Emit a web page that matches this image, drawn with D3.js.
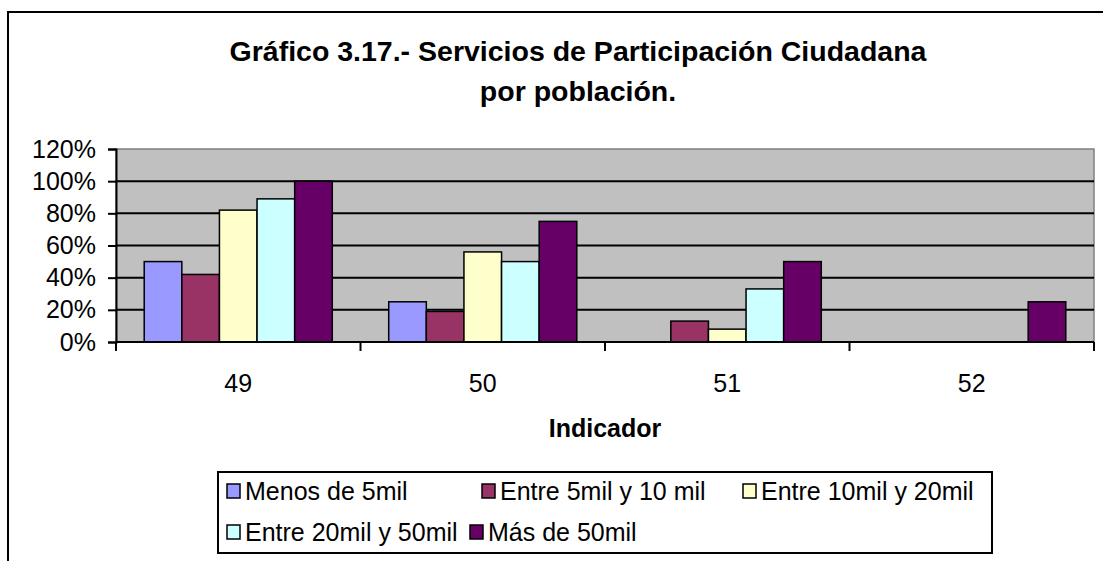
<!DOCTYPE html>
<html>
<head>
<meta charset="utf-8">
<script src="https://cdn.jsdelivr.net/npm/d3@7"></script>
<style>
  body { margin: 0; background: #fff; }
  svg { display: block; font-family: "Liberation Sans", Arial, sans-serif; }
</style>
</head>
<body>
<svg id="chart" width="1103" height="561"></svg>
<script>
// chart data
const indicators = ["49", "50", "51", "52"];
const seriesNames = ["Menos de 5mil", "Entre 5mil y 10 mil", "Entre 10mil y 20mil", "Entre 20mil y 50mil", "Más de 50mil"];
const seriesColors = ["#9999FF", "#993366", "#FFFFCC", "#CCFFFF", "#660066"];
const menos5 = [50, 25, 0, 0];
const de5a10 = [42, 19, 13, 0];
const de10a20 = [82, 56, 8, 0];
const de20a50 = [89, 50, 33, 0];
const mas50 = [100, 75, 50, 25];
const yTicks = [0, 20, 40, 60, 80, 100, 120];
const titleLines = ["Gráfico 3.17.- Servicios de Participación Ciudadana", "por población."];

const values = [menos5, de5a10, de10a20, de20a50, mas50];

const svg = d3.select("#chart");
const plot = { left: 116, right: 1094, top: 149, bottom: 342 };

// outer frame, runs off the right and bottom of the picture
svg.append("rect")
  .attr("x", 8).attr("y", 12)
  .attr("width", 1200).attr("height", 700)
  .attr("fill", "#fff").attr("stroke", "#000").attr("stroke-width", 2);

// title
svg.append("g").selectAll("text")
  .data(titleLines)
  .join("text")
  .attr("x", 578)
  .attr("y", (d, i) => 61 + i * 40)
  .attr("text-anchor", "middle")
  .attr("font-size", 28.5)
  .attr("font-weight", "bold")
  .text(d => d);

const x = d3.scaleBand().domain(indicators).range([plot.left, plot.right]);
const xSub = d3.scaleBand().domain(seriesNames).range([0, x.bandwidth()])
  .paddingInner(0).paddingOuter(0.75);
const y = d3.scaleLinear().domain([0, 120]).range([plot.bottom, plot.top]);

// plot background
svg.append("rect")
  .attr("x", plot.left).attr("y", plot.top)
  .attr("width", plot.right - plot.left).attr("height", plot.bottom - plot.top)
  .attr("fill", "#C0C0C0")
  .attr("stroke", "#808080").attr("stroke-width", 1.5);

// gridlines
svg.append("g").selectAll("line")
  .data(yTicks.filter(t => t > 0 && t < 120))
  .join("line")
  .attr("x1", plot.left).attr("x2", plot.right)
  .attr("y1", d => y(d)).attr("y2", d => y(d))
  .attr("stroke", "#000").attr("stroke-width", 2);

// bars, zero values are not drawn
const groups = svg.append("g").selectAll("g")
  .data(seriesNames)
  .join("g")
  .attr("fill", (d, i) => seriesColors[i]);

groups.selectAll("rect")
  .data((name, si) => indicators.map((ind, ci) => ({ name, ind, v: values[si][ci] })).filter(d => d.v > 0))
  .join("rect")
  .attr("x", d => x(d.ind) + xSub(d.name))
  .attr("y", d => y(d.v))
  .attr("width", xSub.bandwidth())
  .attr("height", d => y(0) - y(d.v))
  .attr("stroke", "#000").attr("stroke-width", 1.5);

// y axis
const yAxis = svg.append("g")
  .attr("transform", `translate(${plot.left},0)`)
  .call(d3.axisLeft(y).tickValues(yTicks).tickFormat(d => d + "%").tickSize(8).tickPadding(12));
yAxis.select(".domain").attr("stroke", "#000").attr("stroke-width", 2);
yAxis.selectAll(".tick line").attr("stroke", "#000").attr("stroke-width", 2);
yAxis.selectAll(".tick text").attr("font-size", 25).attr("fill", "#000")
  .attr("font-family", "Liberation Sans, Arial, sans-serif");

// x axis line and category boundary ticks
svg.append("line")
  .attr("x1", plot.left).attr("x2", plot.right)
  .attr("y1", plot.bottom).attr("y2", plot.bottom)
  .attr("stroke", "#000").attr("stroke-width", 2);
const bounds = indicators.map(d => x(d)).concat([x(indicators[indicators.length - 1]) + x.bandwidth()]);
svg.append("g").selectAll("line")
  .data(bounds)
  .join("line")
  .attr("x1", d => d).attr("x2", d => d)
  .attr("y1", plot.bottom).attr("y2", plot.bottom + 9)
  .attr("stroke", "#000").attr("stroke-width", 2);
svg.append("g").selectAll("text")
  .data(indicators)
  .join("text")
  .attr("x", d => x(d) + x.bandwidth() / 2)
  .attr("y", 392)
  .attr("text-anchor", "middle")
  .attr("font-size", 25)
  .text(d => d);

// axis title
svg.append("text")
  .attr("x", (plot.left + plot.right) / 2)
  .attr("y", 437)
  .attr("text-anchor", "middle")
  .attr("font-size", 25)
  .attr("font-weight", "bold")
  .text("Indicador");

// legend
const legendPos = [[227, 491], [482, 491], [743, 491], [227, 532], [470, 532]];
svg.append("rect")
  .attr("x", 218).attr("y", 472).attr("width", 774).attr("height", 81)
  .attr("fill", "#fff").attr("stroke", "#000").attr("stroke-width", 2);
const items = svg.append("g").selectAll("g")
  .data(seriesNames)
  .join("g")
  .attr("transform", (d, i) => `translate(${legendPos[i][0]},${legendPos[i][1]})`);
items.append("rect")
  .attr("x", 0).attr("y", -7).attr("width", 13).attr("height", 14)
  .attr("fill", (d, i) => seriesColors[i])
  .attr("stroke", "#000").attr("stroke-width", 1.5);
items.append("text")
  .attr("x", 18).attr("y", 9)
  .attr("font-size", 25)
  .text(d => d);
</script>
</body>
</html>
